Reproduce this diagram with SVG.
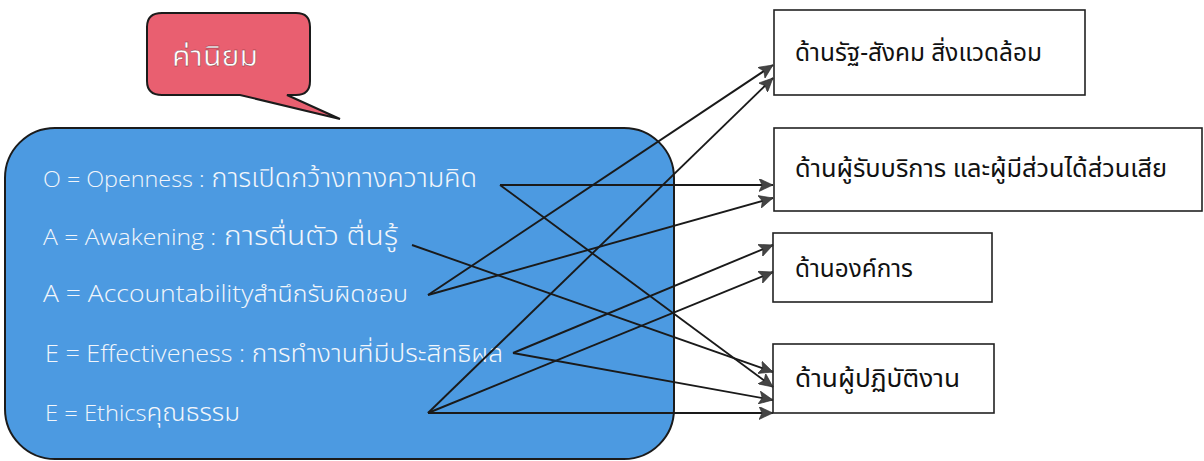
<svg xmlns="http://www.w3.org/2000/svg" width="1204" height="461" viewBox="0 0 1204 461">
<style>
.box{fill:#ffffff;stroke:#222;stroke-width:1.6}
.lbl{font-family:"Noto Sans Thai","Leelawadee UI","Noto Sans","DejaVu Sans",sans-serif;font-size:24.5px;fill:#111}
.item{font-family:"Open Sans","Noto Sans Thai","Noto Sans",sans-serif;font-weight:300;font-size:22px;fill:#f2f6fb}
.th{font-family:"Noto Sans Thai","Leelawadee UI","Noto Sans",sans-serif;font-size:26px}
.conn{stroke:#1a1a1a;stroke-width:1.9;fill:none;marker-end:url(#ah)}
</style>
<defs>
<marker id="ah" markerUnits="userSpaceOnUse" markerWidth="15" markerHeight="13" refX="14" refY="6.5" orient="auto">
<path d="M0,0 L14,6.5 L0,13 L3,6.5 z" fill="#444" stroke="#2a2a2a" stroke-width="0.6"/>
</marker>
</defs>
<rect width="1204" height="461" fill="#ffffff"/>
<g id="values-panel">
<rect x="5" y="128" width="669" height="331" rx="50" ry="50" fill="#4c9ae1" stroke="#1b1b1b" stroke-width="2"/>
<text class="item" x="43" y="187" style="font-size:22.5px" textLength="434" lengthAdjust="spacingAndGlyphs">O = Openness :<tspan class="th"> การเปิดกว้างทางความคิด</tspan></text>
<text class="item" x="43" y="245" style="font-size:21.5px" textLength="355" lengthAdjust="spacingAndGlyphs">A = Awakening :<tspan class="th"> การตื่นตัว ตื่นรู้</tspan></text>
<text class="item" x="43" y="302" style="font-size:24.5px" textLength="365" lengthAdjust="spacingAndGlyphs">A = Accountability<tspan class="th" style="font-size:23px">สำนึกรับผิดชอบ</tspan></text>
<text class="item" x="45" y="362" style="font-size:24px" textLength="458" lengthAdjust="spacingAndGlyphs">E = Effectiveness :<tspan class="th" style="font-size:25px"> การทำงานที่มีประสิทธิผล</tspan></text>
<text class="item" x="45" y="421" textLength="195" lengthAdjust="spacingAndGlyphs">E = Ethics<tspan class="th" style="font-size:24px">คุณธรรม</tspan></text>
</g>
<g id="callout">
<path d="M162,13 H296 Q310,13 310,27 V81 Q310,95 296,95 H287 L340,119 L240,95 H162 Q147,95 147,81 V27 Q147,13 162,13 Z" fill="#e95f70" stroke="#1b1b1b" stroke-width="2"/>
<text x="172" y="66" font-family="Noto Sans Thai,Leelawadee UI,Noto Sans,sans-serif" font-size="29" fill="#ffffff" stroke="#7a2a33" stroke-width="0.4" textLength="86" lengthAdjust="spacingAndGlyphs">ค่านิยม</text>
</g>
<g id="box-state">
<rect class="box" x="774" y="10" width="311" height="85"/>
<text class="lbl" x="795" y="61" textLength="247" lengthAdjust="spacingAndGlyphs">ด้านรัฐ-สังคม สิ่งแวดล้อม</text>
</g>
<g id="box-clients">
<rect class="box" x="774" y="128" width="428" height="83"/>
<text class="lbl" x="795" y="177" textLength="372" lengthAdjust="spacingAndGlyphs">ด้านผู้รับบริการ และผู้มีส่วนได้ส่วนเสีย</text>
</g>
<g id="box-org">
<rect class="box" x="773" y="233" width="219" height="69"/>
<text class="lbl" x="795" y="277" textLength="118" lengthAdjust="spacingAndGlyphs">ด้านองค์การ</text>
</g>
<g id="box-staff">
<rect class="box" x="773" y="344" width="221" height="69"/>
<text class="lbl" x="795" y="387" textLength="165" lengthAdjust="spacingAndGlyphs">ด้านผู้ปฏิบัติงาน</text>
</g>
<g id="connectors">
<line class="conn" x1="500" y1="185" x2="773" y2="185"/>
<line class="conn" x1="500" y1="185" x2="773" y2="387"/>
<line class="conn" x1="412" y1="245" x2="773" y2="372"/>
<line class="conn" x1="428" y1="295" x2="773" y2="65"/>
<line class="conn" x1="428" y1="295" x2="773" y2="198"/>
<line class="conn" x1="513" y1="353" x2="773" y2="245"/>
<line class="conn" x1="513" y1="353" x2="773" y2="400"/>
<line class="conn" x1="428" y1="413" x2="773" y2="78"/>
<line class="conn" x1="428" y1="413" x2="773" y2="272"/>
<line class="conn" x1="428" y1="413" x2="773" y2="413"/>
</g>
</svg>
